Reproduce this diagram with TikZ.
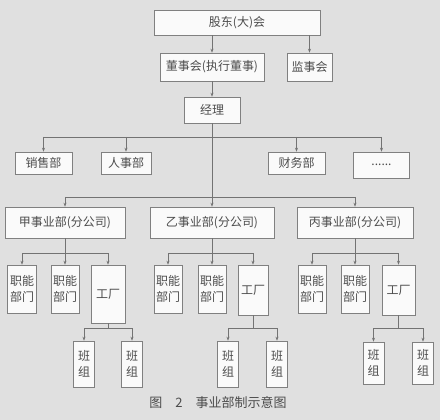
\documentclass[tikz,border=0pt]{standalone}
\usepackage{fontspec}
\setmainfont{Noto Sans CJK SC}
\usetikzlibrary{arrows.meta,calc}
\newcommand\mybox[6]{\node[box,minimum width=#4pt,minimum height=#5pt] (#1) at (#2,#3) {#6};}
\begin{document}
\begin{tikzpicture}[x=1pt,y=-1pt,
  box/.style={draw=black!50, fill=black!2, line width=0.6pt, inner sep=0pt,
    font=\fontsize{12}{16}\selectfont, text=black!70, align=center},
  ln/.style={draw=black!55, line width=0.6pt},
  arr/.style={ln, -{Stealth[length=4pt,width=3pt]}}]
\fill[black!12] (0,0) rectangle (440,420);
\useasboundingbox (0,0) rectangle (440,420);
% top levels
\mybox{gd}{237}{22.5}{166}{25}{股东(大)会}
\mybox{dsh}{212}{67}{104}{28}{董事会(执行董事)}
\mybox{jsh}{309.5}{67}{45}{28}{监事会}
\mybox{jl}{212}{110}{56}{26}{经理}
% departments
\mybox{xs}{43.5}{163}{57}{22}{销售部}
\mybox{rs}{126}{163}{50}{22}{人事部}
\mybox{cw}{296.5}{163}{57}{22}{财务部}
\mybox{etc}{381.5}{165}{56}{26}{......}
% divisions
\mybox{jia}{65}{222.5}{120}{31}{甲事业部(分公司)}
\mybox{yi}{212}{222.5}{124}{31}{乙事业部(分公司)}
\mybox{bing}{355}{222.5}{116}{31}{丙事业部(分公司)}
% functional units and factories
\mybox{zna}{22}{289}{29}{48}{职能\\部门}
\mybox{znb}{65}{289}{28}{48}{职能\\部门}
\mybox{gca}{108}{294}{34}{58}{工厂}
\mybox{znc}{168}{289}{28}{48}{职能\\部门}
\mybox{znd}{212}{289}{28}{48}{职能\\部门}
\mybox{gcb}{253}{290}{30}{50}{工厂}
\mybox{zne}{312}{289}{28}{48}{职能\\部门}
\mybox{znf}{355}{289}{28}{48}{职能\\部门}
\mybox{gcc}{398.5}{290}{33}{50}{工厂}
% teams
\mybox{bza}{84}{364}{21}{46}{班\\组}
\mybox{bzb}{132}{364}{21}{46}{班\\组}
\mybox{bzc}{228}{364}{21}{46}{班\\组}
\mybox{bzd}{277}{364}{21}{46}{班\\组}
\mybox{bze}{373.5}{363}{21}{42}{班\\组}
\mybox{bzf}{423}{363}{21}{42}{班\\组}
% caption
\node[font=\fontsize{13}{15}\selectfont, text=black!70] (cap) at (218,403)
  {图\hspace{1em}2\hspace{1em}事业部制示意图};
% bus coordinates
\coordinate (b1) at (0,137);
\coordinate (b2) at (0,197);
\coordinate (b3) at (0,253);
\coordinate (b4) at (0,328);
% connectors
\draw[arr] (gd.south -| dsh.north) -- (dsh.north);
\draw[arr] (gd.south -| jsh.north) -- (jsh.north);
\draw[arr] (dsh.south) -- (jl.north);
\draw[arr] (jl.south) -- (yi.north);
\draw[ln] (xs.north |- b1) -- (etc.north |- b1);
\foreach \n in {xs,rs,cw,etc} \draw[arr] (\n.north |- b1) -- (\n.north);
\draw[ln] (jia.north |- b2) -- (bing.north |- b2);
\foreach \n in {jia,bing} \draw[arr] (\n.north |- b2) -- (\n.north);
% division groups
\draw[ln] (jia.south) -- (jia.south |- b3);
\draw[ln] (zna.north |- b3) -- (gca.north |- b3);
\foreach \n in {zna,znb,gca} \draw[arr] (\n.north |- b3) -- (\n.north);
\draw[ln] (yi.south) -- (yi.south |- b3);
\draw[ln] (znc.north |- b3) -- (gcb.north |- b3);
\foreach \n in {znc,znd,gcb} \draw[arr] (\n.north |- b3) -- (\n.north);
\draw[ln] (bing.south) -- (bing.south |- b3);
\draw[ln] (zne.north |- b3) -- (gcc.north |- b3);
\foreach \n in {zne,znf,gcc} \draw[arr] (\n.north |- b3) -- (\n.north);
% factory groups
\draw[ln] (gca.south) -- (gca.south |- b4);
\draw[ln] (bza.north |- b4) -- (bzb.north |- b4);
\foreach \n in {bza,bzb} \draw[arr] (\n.north |- b4) -- (\n.north);
\draw[ln] (gcb.south) -- (gcb.south |- b4);
\draw[ln] (bzc.north |- b4) -- (bzd.north |- b4);
\foreach \n in {bzc,bzd} \draw[arr] (\n.north |- b4) -- (\n.north);
\draw[ln] (gcc.south) -- (gcc.south |- b4);
\draw[ln] (bze.north |- b4) -- (bzf.north |- b4);
\foreach \n in {bze,bzf} \draw[arr] (\n.north |- b4) -- (\n.north);
\end{tikzpicture}
\end{document}
